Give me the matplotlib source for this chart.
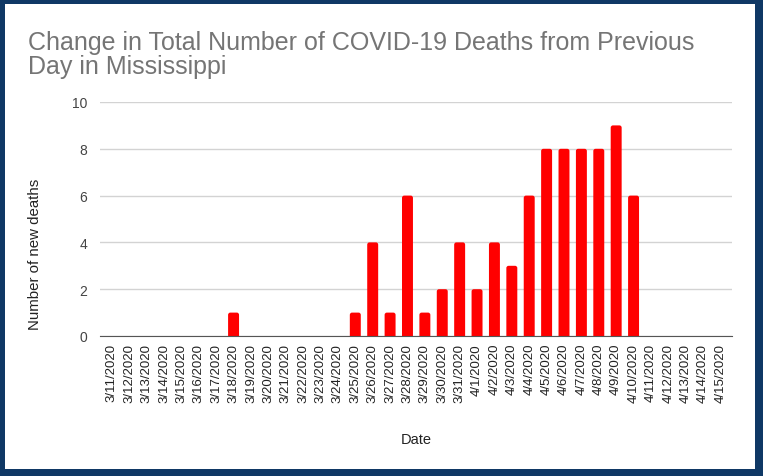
import matplotlib
matplotlib.use("Agg")
from matplotlib import pyplot as plt
from matplotlib.patches import Rectangle, FancyBboxPatch

# dates shown on the x axis
dates = ["3/11/2020", "3/12/2020", "3/13/2020", "3/14/2020", "3/15/2020", "3/16/2020",
         "3/17/2020", "3/18/2020", "3/19/2020", "3/20/2020", "3/21/2020", "3/22/2020",
         "3/23/2020", "3/24/2020", "3/25/2020", "3/26/2020", "3/27/2020", "3/28/2020",
         "3/29/2020", "3/30/2020", "3/31/2020", "4/1/2020", "4/2/2020", "4/3/2020",
         "4/4/2020", "4/5/2020", "4/6/2020", "4/7/2020", "4/8/2020", "4/9/2020",
         "4/10/2020", "4/11/2020", "4/12/2020", "4/13/2020", "4/14/2020", "4/15/2020"]
# new deaths per day
new_deaths = [0, 0, 0, 0, 0, 0, 0, 1, 0, 0, 0, 0, 0, 0, 1, 4, 1, 6, 1, 2, 4, 2, 4, 3,
              6, 8, 8, 8, 8, 9, 6, 0, 0, 0, 0, 0]
yticks = [0, 2, 4, 6, 8, 10]

fig = plt.figure(figsize=(7.63, 4.77), dpi=100)
fig.patch.set_facecolor("#0f3865")
# white panel inside the navy frame
fig.add_artist(Rectangle((5 / 763, 7 / 477), 750 / 763, 465 / 477, zorder=-5,
                         transform=fig.transFigure, facecolor="white", edgecolor="none"))

ax = fig.add_axes([100 / 763, 140 / 477, 632 / 763, 234 / 477])
ax.set_facecolor("none")
x = range(len(dates))
bars = ax.bar(x, new_deaths, width=0.63, color="#ff0000", zorder=3)

# give the bars slightly rounded tops (bottom corners hidden below the axis)
for b in bars:
    if b.get_height() <= 0:
        continue
    b.set_visible(False)
    fb = FancyBboxPatch((b.get_x(), -0.3), b.get_width(), b.get_height() + 0.3,
                        boxstyle="round,pad=0,rounding_size=0.13", mutation_aspect=0.74,
                        facecolor="#ff0000", edgecolor="none", zorder=3)
    ax.add_patch(fb)

ax.set_xlim(-0.68, len(dates) - 0.34)
ax.set_ylim(0, 10)
ax.set_yticks(yticks)
ax.set_xticks(list(x))
ax.set_xticklabels(dates, rotation=90, fontsize=9.5, color="#222222", family="Liberation Sans")
ax.tick_params(axis="y", labelsize=10, labelcolor="#444444", length=0, pad=9)
ax.tick_params(axis="x", length=0, pad=5)
for lbl in ax.get_yticklabels():
    lbl.set_family("Liberation Sans")
ax.grid(axis="y", color="#d3d3d3", linewidth=1, zorder=0)
for s in ["top", "right", "left"]:
    ax.spines[s].set_visible(False)
ax.spines["bottom"].set_color("#555555")
ax.spines["bottom"].set_zorder(4)

fig.text(35 / 763, 1 - 254 / 477, "Number of new deaths", rotation=90, fontsize=10.8,
         color="#222222", family="Liberation Sans", ha="center", va="center")
ax.set_xlabel("Date", fontsize=10.5, color="#222222", family="Liberation Sans", labelpad=22)

fig.text(28 / 763, 1 - 31 / 477, "Change in Total Number of COVID-19 Deaths from Previous\nDay in Mississippi",
         fontsize=18, color="#757575", family="Liberation Sans", va="top", ha="left",
         linespacing=0.98)

fig.savefig("out.png", dpi=100, facecolor=fig.get_facecolor())
